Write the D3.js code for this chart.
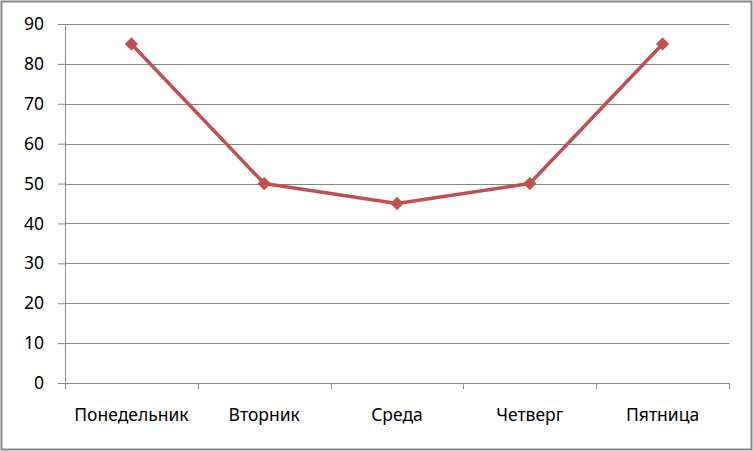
<!DOCTYPE html>
<html><head><meta charset="utf-8">
<script src="https://cdn.jsdelivr.net/npm/d3@7"></script>
<style>body{margin:0;background:#fff}svg{display:block}</style>
</head><body>
<script>
const categories = ["Понедельник","Вторник","Среда","Четверг","Пятница"];
const values = [85, 50, 45, 50, 85];
const yTicks = [0,10,20,30,40,50,60,70,80,90];

const W = 753, H = 451;
const m = {left:65, right:24, top:24, bottom:68};
const svg = d3.select("body").append("svg").attr("width",W).attr("height",H);
svg.append("rect").attr("x",1.5).attr("y",1.5).attr("width",W-3).attr("height",H-3)
  .attr("fill","#fff").attr("stroke","#868686").attr("stroke-width",2);

const x = d3.scaleBand().domain(categories).range([m.left, W-m.right]);
const y = d3.scaleLinear().domain([0,90]).range([H-m.bottom, m.top]);
const font = "'Noto Sans', sans-serif";
const fs = 17.5;

// gridlines + y axis
const ya = svg.append("g").attr("transform",`translate(${m.left},0)`)
  .call(d3.axisLeft(y).tickValues(yTicks).tickSize(7).tickPadding(14).tickFormat(d3.format("d")));
ya.select(".domain").attr("stroke","#868686");
ya.selectAll(".tick line").attr("stroke","#868686");
ya.selectAll(".tick text").attr("font-family",font).attr("font-size",fs).attr("fill","#000");
svg.append("g").selectAll("line").data(yTicks.filter(d=>d>0)).join("line")
  .attr("x1",m.left).attr("x2",W-m.right)
  .attr("y1",d=>Math.round(y(d))+0.5).attr("y2",d=>Math.round(y(d))+0.5)
  .attr("stroke","#868686");

// x axis
const xa = svg.append("g").attr("transform",`translate(0,${H-m.bottom})`)
  .call(d3.axisBottom(x).tickSize(0).tickPadding(26));
xa.select(".domain").attr("stroke","#868686");
xa.selectAll(".tick text").attr("font-family",font).attr("font-size",fs).attr("fill","#000");
const bounds = categories.map(c=>x(c)).concat([x(categories[categories.length-1])+x.bandwidth()]);
svg.append("g").selectAll("line").data(bounds).join("line")
  .attr("x1",d=>Math.round(d)+0.5).attr("x2",d=>Math.round(d)+0.5)
  .attr("y1",H-m.bottom).attr("y2",H-m.bottom+6).attr("stroke","#868686");

// line
const cx = d=>x(d)+x.bandwidth()/2;
const line = d3.line().x((d,i)=>cx(categories[i])).y(d=>y(d));
svg.append("path").datum(values).attr("d",line).attr("fill","none")
  .attr("stroke","#C0504D").attr("stroke-width",3.5).attr("stroke-linejoin","round");
svg.append("g").selectAll("path").data(values).join("path")
  .attr("d",d3.symbol(d3.symbolSquare,88)())
  .attr("transform",(d,i)=>`translate(${cx(categories[i])},${y(d)}) rotate(45)`)
  .attr("fill","#C0504D");
</script>
</body></html>
